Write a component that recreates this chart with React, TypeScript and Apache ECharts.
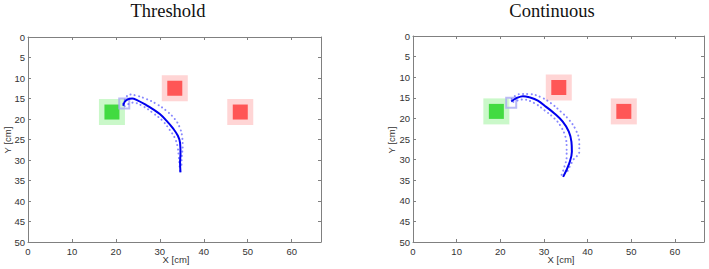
import React, { useEffect, useRef } from "react";
import * as echarts from "echarts";

const panelTitles = ["Threshold", "Continuous"];
const xAxisName = "X [cm]";
const yAxisName = "Y [cm]";
const xMax = 66.67;
const yMax = 50;

// target positions (cm)
const greenTarget = [[19.1, 18.3]];
const redTargets = [[33.4, 12.5], [48.3, 18.3]];
const startBoxLeft = [[21.9, 16.2]];
const startBoxRight = [[22.5, 16.2]];

// Threshold trajectories
const thrMean = [
  [21.7, 16.8], [22.0, 15.8], [22.7, 15.2], [23.7, 15.0], [24.8, 15.4], [26.9, 16.6],
  [28.4, 17.6], [30.0, 18.8], [31.5, 20.4], [33.0, 22.3], [34.1, 24.1], [34.6, 25.8],
  [34.7, 28.3], [34.6, 30.7], [34.7, 33.0],
];
const thrUpper = [
  [21.6, 16.3], [22.3, 14.8], [23.0, 14.0], [24.7, 14.3], [26.9, 15.1], [29.2, 16.3],
  [31.5, 18.0], [33.4, 20.0], [34.5, 22.0], [35.1, 24.5], [35.2, 26.7], [35.0, 29.0],
  [34.9, 32.0],
];
const thrLower = [
  [22.0, 16.9], [23.9, 16.0], [26.2, 16.9], [28.4, 18.5], [30.7, 20.5], [32.2, 22.6],
  [33.4, 24.6], [34.0, 26.6], [34.3, 29.1], [34.5, 31.5], [34.6, 33.0],
];

// Continuous trajectories
const conMean = [
  [22.5, 15.9], [23.7, 15.1], [25.2, 14.6], [26.7, 14.9], [28.6, 15.7], [30.5, 17.2],
  [32.4, 18.8], [34.3, 20.8], [35.7, 23.2], [36.3, 25.7], [36.4, 28.1], [35.8, 30.9],
  [34.4, 34.2],
];
const conUpper = [
  [22.6, 15.3], [24.4, 14.1], [26.7, 14.1], [29.4, 14.9], [31.6, 16.3], [33.9, 18.4],
  [35.8, 20.4], [37.3, 22.8], [38.1, 25.7], [38.1, 28.1], [36.7, 30.1], [35.2, 33.3],
];
const conLower = [
  [23.0, 16.0], [25.2, 15.4], [27.8, 16.3], [30.1, 18.0], [32.4, 20.0], [33.9, 22.0],
  [34.9, 24.4], [35.2, 26.9], [35.2, 29.3], [34.7, 31.7], [33.9, 34.1],
];

const FRAME = "#808080";
const LABEL = "#333333";
const SANS = "Liberation Sans, Arial, sans-serif";

function xAxes(gridIndex: number) {
  const base = {
    type: "value" as const,
    gridIndex,
    min: 0,
    max: xMax,
    interval: 10,
    splitLine: { show: false },
    axisLine: { show: true, onZero: false, lineStyle: { color: FRAME, width: 1 } },
    axisTick: { show: true, inside: true, length: 3, lineStyle: { color: FRAME } },
  };
  return [
    {
      ...base,
      position: "bottom",
      axisLabel: {
        show: true,
        margin: 4,
        fontSize: 9.5,
        color: LABEL,
        fontFamily: SANS,
        formatter: (v: number) => (Math.abs(v % 10) < 1e-6 ? String(v) : ""),
      },
    },
    { ...base, position: "top", axisLabel: { show: false } },
  ];
}

function yAxes(gridIndex: number) {
  const base = {
    type: "value" as const,
    gridIndex,
    min: 0,
    max: yMax,
    interval: 5,
    inverse: true,
    splitLine: { show: false },
    axisLine: { show: true, onZero: false, lineStyle: { color: FRAME, width: 1 } },
    axisTick: { show: true, inside: true, length: 3, lineStyle: { color: FRAME } },
  };
  return [
    {
      ...base,
      position: "left",
      axisLabel: { show: true, margin: 3, fontSize: 9.5, color: LABEL, fontFamily: SANS },
    },
    { ...base, position: "right", axisLabel: { show: false } },
  ];
}

function panelSeries(p: number, mean: number[][], upper: number[][], lower: number[][], box: number[][]) {
  const ax = { xAxisIndex: 2 * p, yAxisIndex: 2 * p };
  const dotted = {
    type: "line" as const,
    ...ax,
    symbol: "none",
    smooth: 0.4,
    z: 4,
    lineStyle: { color: "#6a6aff", width: 2, type: [0.1, 4.2], cap: "round" as const, opacity: 0.8 },
  };
  return [
    { type: "scatter", ...ax, data: greenTarget, symbol: "rect", symbolSize: 26, itemStyle: { color: "#bdf6bb" }, z: 1 },
    { type: "scatter", ...ax, data: redTargets, symbol: "rect", symbolSize: 26, itemStyle: { color: "#ffcaca" }, z: 1 },
    { type: "scatter", ...ax, data: greenTarget, symbol: "rect", symbolSize: 15, itemStyle: { color: "#1fd31f" }, z: 2 },
    { type: "scatter", ...ax, data: redTargets, symbol: "rect", symbolSize: 15, itemStyle: { color: "#ff3636" }, z: 2 },
    {
      type: "scatter",
      ...ax,
      data: box,
      symbol: "rect",
      symbolSize: 10,
      itemStyle: { color: "rgba(255,255,255,0.25)", borderColor: "#a9a9f2", borderWidth: 2 },
      z: 3,
    },
    { ...dotted, data: upper },
    { ...dotted, data: lower },
    {
      type: "line",
      ...ax,
      data: mean,
      symbol: "none",
      smooth: 0.4,
      z: 5,
      lineStyle: { color: "#0000ee", width: 2 },
    },
  ];
}

export default function App() {
  const ref = useRef<HTMLDivElement>(null);
  useEffect(() => {
    if (!ref.current) return;
    const chart = echarts.init(ref.current, undefined, { renderer: "svg" });
    const grids = [
      { left: 28, top: 37, width: 293, height: 205 },
      { left: 413, top: 36, width: 291, height: 206 },
    ];
    const textStyle = (t: string, size: number, family: string, color: string) => ({
      text: t,
      fontSize: size,
      fontFamily: family,
      fill: color,
      textAlign: "center",
      textVerticalAlign: "middle",
      align: "center",
      verticalAlign: "middle",
    });
    chart.setOption({
      animation: false,
      backgroundColor: "#ffffff",
      grid: grids.map((g) => ({ ...g, containLabel: false })),
      xAxis: [...xAxes(0), ...xAxes(1)],
      yAxis: [...yAxes(0), ...yAxes(1)],
      series: [
        ...panelSeries(0, thrMean, thrUpper, thrLower, startBoxLeft),
        ...panelSeries(1, conMean, conUpper, conLower, startBoxRight),
      ],
      graphic: [
        { type: "text", x: 168, y: 11, style: textStyle(panelTitles[0], 18.5, "Liberation Serif, serif", "#111") },
        { type: "text", x: 552, y: 11, style: textStyle(panelTitles[1], 18.5, "Liberation Serif, serif", "#111") },
        { type: "text", x: 176, y: 259, style: textStyle(xAxisName, 9.5, SANS, LABEL) },
        { type: "text", x: 561, y: 259, style: textStyle(xAxisName, 9.5, SANS, LABEL) },
        { type: "text", x: 7, y: 140, rotation: Math.PI / 2, style: textStyle(yAxisName, 9.5, SANS, LABEL) },
        { type: "text", x: 391, y: 140, rotation: Math.PI / 2, style: textStyle(yAxisName, 9.5, SANS, LABEL) },
      ],
    });
    return () => chart.dispose();
  }, []);
  return (
    <div
      ref={ref}
      style={{ position: "fixed", left: 0, top: 0, width: 709, height: 269, background: "#fff" }}
    />
  );
}
